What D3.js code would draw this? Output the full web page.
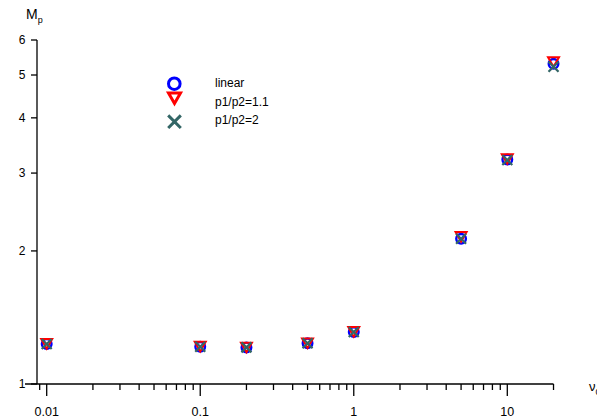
<!DOCTYPE html>
<html><head><meta charset="utf-8">
<script src="https://cdn.jsdelivr.net/npm/d3@7"></script>
<style>
body{margin:0;background:#fff;}
text{font-family:"Liberation Sans",Arial,sans-serif;fill:#000;}
</style></head>
<body>
<svg id="c" width="597" height="418"></svg>
<script>
const nu = [0.01, 0.1, 0.2, 0.5, 1, 5, 10, 20];
const linear = [1.232, 1.214, 1.21, 1.236, 1.311, 2.13, 3.22, 5.30];
const p11 = [1.237, 1.219, 1.214, 1.241, 1.317, 2.16, 3.24, 5.37];
const p2 = [1.232, 1.214, 1.21, 1.236, 1.311, 2.13, 3.21, 5.22];
const seriesNames = ["linear", "p1/p2=1.1", "p1/p2=2"];
const yTicks = [1, 2, 3, 4, 5, 6];
const xMajor = [0.01, 0.1, 1, 10];
const xMinor = [0.009, 0.02,0.03,0.04,0.05,0.06,0.07,0.08,0.09, 0.2,0.3,0.4,0.5,0.6,0.7,0.8,0.9, 2,3,4,5,6,7,8,9, 20];
const xLabels = ["0.01", "0.1", "1", "10"];

const svg = d3.select("#c");
const x = d3.scaleLog().domain([0.01, 10]).range([46.7, 507.3]);
const y = d3.scaleLog().domain([1, 6]).range([384, 40]);

// x axis
const xa = svg.append("g");
xa.append("line").attr("x1", 25).attr("x2", x(20)).attr("y1", 384).attr("y2", 384).attr("stroke", "#000").attr("stroke-width", 1.3);
xa.selectAll(".mj").data(xMajor).enter().append("line")
  .attr("x1", d => x(d)).attr("x2", d => x(d)).attr("y1", 384).attr("y2", 396).attr("stroke", "#000").attr("stroke-width", 1.3);
xa.selectAll(".mn").data(xMinor).enter().append("line")
  .attr("x1", d => x(d)).attr("x2", d => x(d)).attr("y1", 384).attr("y2", 390).attr("stroke", "#000").attr("stroke-width", 1.3);
xa.selectAll(".lb").data(xMajor).enter().append("text")
  .attr("x", d => x(d)).attr("y", 416).attr("text-anchor", "middle").attr("font-size", 12.5)
  .text((d, i) => xLabels[i]);

// y axis
const ya = svg.append("g");
ya.append("line").attr("x1", 37).attr("x2", 37).attr("y1", y(6)).attr("y2", 384).attr("stroke", "#000").attr("stroke-width", 1.3);
ya.selectAll(".t").data(yTicks).enter().append("line")
  .attr("x1", 31).attr("x2", 37).attr("y1", d => y(d)).attr("y2", d => y(d)).attr("stroke", "#000").attr("stroke-width", 1.3);
ya.selectAll(".l").data(yTicks).enter().append("text")
  .attr("x", 25.5).attr("y", d => y(d) + 4.3).attr("text-anchor", "end").attr("font-size", 12)
  .text(d => d);

// axis titles
const mt = svg.append("text").attr("x", 26).attr("y", 19).attr("font-size", 14);
mt.append("tspan").text("M");
mt.append("tspan").attr("font-size", 9).attr("dy", 4).text("p");
const nt = svg.append("text").attr("x", 589).attr("y", 391).attr("font-size", 13);
nt.append("tspan").text("ν");
nt.append("tspan").attr("font-size", 9).attr("dy", 4).text("0");

// markers
const blue = "#0000ff", red = "#ff0000", green = "#336666";
function tri(cx, cy, s) { // inverted triangle, half-width s
  return `M${cx - s},${cy - s * 0.75}L${cx + s},${cy - s * 0.75}L${cx},${cy + s * 1.0}Z`;
}
function cross(cx, cy, s) {
  return `M${cx - s},${cy - s}L${cx + s},${cy + s}M${cx - s},${cy + s}L${cx + s},${cy - s}`;
}
const g = svg.append("g");
g.selectAll(".c").data(nu).enter().append("circle")
  .attr("cx", d => x(d)).attr("cy", (d, i) => y(linear[i])).attr("r", 4.8)
  .attr("fill", "none").attr("stroke", blue).attr("stroke-width", 2.4);
g.selectAll(".tr").data(nu).enter().append("path")
  .attr("d", (d, i) => tri(x(d), y(p11[i]), 5.5))
  .attr("fill", "none").attr("stroke", red).attr("stroke-width", 2);
g.selectAll(".x").data(nu).enter().append("path")
  .attr("d", (d, i) => cross(x(d), y(p2[i]), 5))
  .attr("fill", "none").attr("stroke", green).attr("stroke-width", 2.2);

// legend
const lg = svg.append("g");
lg.append("circle").attr("cx", 174.3).attr("cy", 83.7).attr("r", 5.8).attr("fill", "none").attr("stroke", blue).attr("stroke-width", 3);
lg.append("path").attr("d", tri(174.5, 97.5, 6)).attr("fill", "none").attr("stroke", red).attr("stroke-width", 3);
lg.append("path").attr("d", cross(174.5, 121.7, 6.3)).attr("fill", "none").attr("stroke", green).attr("stroke-width", 3);
lg.selectAll(".lt").data(seriesNames).enter().append("text")
  .attr("x", 215).attr("y", (d, i) => [87, 105.7, 124.3][i]).attr("font-size", 12).text(d => d);
</script>
</body></html>
